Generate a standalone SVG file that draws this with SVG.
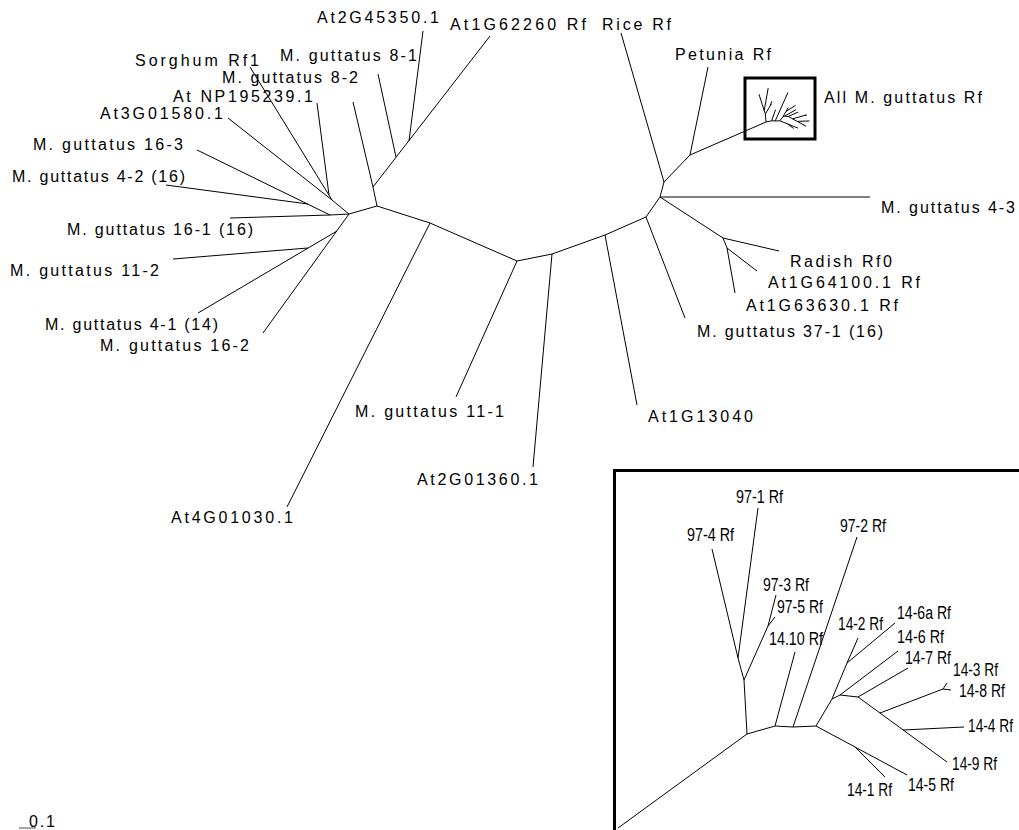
<svg xmlns="http://www.w3.org/2000/svg" xmlns:xlink="http://www.w3.org/1999/xlink" width="1019" height="830" viewBox="0 0 1019 830">
<style>
.br{fill:none;stroke:#000;stroke-width:1;}
.bx{fill:none;stroke:#000;stroke-width:3;}
.lb{font-family:"Liberation Sans",Arial,sans-serif;font-size:16px;fill:#000;}
.il{font-family:"Liberation Sans Narrow","Liberation Sans",Arial,sans-serif;font-size:18px;fill:#000;}
.ns{vector-effect:non-scaling-stroke;}
</style>
<defs>
<g id="itree" class="br">
<path class="ns" d="M747,734 L744,680 L738,658 L712,549 M738,658 L758,508 M744,680 L768,626 L776,595 M768,626 L775,617 M747,734 L775,726 L793,727 L816,726 M775,726 L795,652 M793,727 L857,537 M816,726 L832,699 L847,663 L858,638 M847,663 L895,623 M832,699 L840,695 L898,651 M840,695 L858,697 L908,668 M858,697 L947,762 M880,713 L943,689 L947,683 M943,689 L951,690 M903,730 L964,727 M816,726 L907,775 M855,747 L885,777"/>
</g>
</defs>
<rect width="1019" height="830" fill="#fff"/>
<g id="branches" class="br">
<path d="M349,214 L377,206 M349,214 L330,215 L230,218 M330,215 L197,150 M308,204 L166,185 M349,214 L332,200 L250,67 M332,200 L228,118 M329,195 L317,103 M349,214 L263,333 M337,231 L198,313 M308,248 L173,259"/>
<path d="M377,206 L373,187 L353,102 M373,187 L490,36 M396,157 L378,74 M409,141 L423,31"/>
<path d="M377,206 L430,223 L517,261 L552,254 L605,235 L646,217 L660,197 L664,182 L690,155 L766,122 M430,223 L287,507 M517,261 L456,397 M552,254 L533,467 M605,235 L637,405 M646,217 L685,318 M660,197 L870,197 M660,197 L723,238 L779,251 M723,238 L727,248 L757,271 M727,248 L735,293 M664,182 L621,33 M690,155 L708,67"/>
</g>
<g id="minibox">
<rect class="bx" x="745" y="78" width="70" height="61"/>
<use xlink:href="#itree" href="#itree" transform="translate(766,122) scale(0.2,0.15) translate(-747,-734)"/>
</g>
<g id="labels" class="lb">
<text id="t1" x="317" y="23" textLength="122" lengthAdjust="spacing">At2G45350.1</text>
<text id="t2" x="450" y="30" textLength="136" lengthAdjust="spacing">At1G62260 Rf</text>
<text id="t3" x="602" y="30" textLength="69" lengthAdjust="spacing">Rice Rf</text>
<text id="t4" x="675" y="60" textLength="96" lengthAdjust="spacing">Petunia Rf</text>
<text id="t5" x="824" y="103" textLength="158" lengthAdjust="spacing">All M. guttatus Rf</text>
<text id="t6" x="881" y="213" textLength="134" lengthAdjust="spacing">M. guttatus 4-3</text>
<text id="t7" x="790" y="267" textLength="102" lengthAdjust="spacing">Radish Rf0</text>
<text id="t8" x="768" y="288" textLength="152" lengthAdjust="spacing">At1G64100.1 Rf</text>
<text id="t9" x="746" y="311" textLength="152" lengthAdjust="spacing">At1G63630.1 Rf</text>
<text id="t10" x="697" y="337" textLength="186" lengthAdjust="spacing">M. guttatus 37-1 (16)</text>
<text id="t11" x="648" y="422" textLength="105" lengthAdjust="spacing">At1G13040</text>
<text id="t12" x="417" y="485" textLength="121" lengthAdjust="spacing">At2G01360.1</text>
<text id="t13" x="355" y="417" textLength="149" lengthAdjust="spacing">M. guttatus 11-1</text>
<text id="t14" x="171" y="523" textLength="122" lengthAdjust="spacing">At4G01030.1</text>
<text id="t15" x="100" y="351" textLength="149" lengthAdjust="spacing">M. guttatus 16-2</text>
<text id="t16" x="45" y="330" textLength="173" lengthAdjust="spacing">M. guttatus 4-1 (14)</text>
<text id="t17" x="10" y="276" textLength="149" lengthAdjust="spacing">M. guttatus 11-2</text>
<text id="t18" x="67" y="235" textLength="186" lengthAdjust="spacing">M. guttatus 16-1 (16)</text>
<text id="t19" x="12" y="182" textLength="173" lengthAdjust="spacing">M. guttatus 4-2 (16)</text>
<text id="t20" x="33" y="150" textLength="150" lengthAdjust="spacing">M. guttatus 16-3</text>
<text id="t21" x="100" y="119" textLength="123" lengthAdjust="spacing">At3G01580.1</text>
<text id="t22" x="173" y="102" textLength="140" lengthAdjust="spacing">At NP195239.1</text>
<text id="t23" x="222" y="83" textLength="136" lengthAdjust="spacing">M. guttatus 8-2</text>
<text id="t24" x="135" y="66" textLength="124" lengthAdjust="spacing">Sorghum Rf1</text>
<text id="t25" x="280" y="61" textLength="137" lengthAdjust="spacing">M. guttatus 8-1</text>
</g>
<g id="inset">
<path class="bx" d="M614.5,830 V470.5 H1019"/>
<path class="br" d="M618,828 L747,734"/>
<use xlink:href="#itree" href="#itree"/>
<g class="il">
<text x="736" y="503" textLength="47" lengthAdjust="spacingAndGlyphs">97-1 Rf</text>
<text x="687" y="541" textLength="47" lengthAdjust="spacingAndGlyphs">97-4 Rf</text>
<text x="840" y="532" textLength="46" lengthAdjust="spacingAndGlyphs">97-2 Rf</text>
<text x="763" y="591" textLength="46" lengthAdjust="spacingAndGlyphs">97-3 Rf</text>
<text x="777" y="613" textLength="46" lengthAdjust="spacingAndGlyphs">97-5 Rf</text>
<text x="838" y="630" textLength="45" lengthAdjust="spacingAndGlyphs">14-2 Rf</text>
<text x="897" y="619" textLength="54" lengthAdjust="spacingAndGlyphs">14-6a Rf</text>
<text x="769" y="645" textLength="54" lengthAdjust="spacingAndGlyphs">14.10 Rf</text>
<text x="897" y="643" textLength="47" lengthAdjust="spacingAndGlyphs">14-6 Rf</text>
<text x="905" y="664" textLength="46" lengthAdjust="spacingAndGlyphs">14-7 Rf</text>
<text x="953" y="676" textLength="45" lengthAdjust="spacingAndGlyphs">14-3 Rf</text>
<text x="959" y="697" textLength="46" lengthAdjust="spacingAndGlyphs">14-8 Rf</text>
<text x="1013" y="732" text-anchor="end" textLength="45" lengthAdjust="spacingAndGlyphs">14-4 Rf</text>
<text x="952" y="770" textLength="45" lengthAdjust="spacingAndGlyphs">14-9 Rf</text>
<text x="908" y="791" textLength="46" lengthAdjust="spacingAndGlyphs">14-5 Rf</text>
<text x="847" y="796" textLength="45" lengthAdjust="spacingAndGlyphs">14-1 Rf</text>
</g>
</g>
<g id="scale">
<path d="M19,828 H36" stroke="#777" stroke-width="1.3" fill="none"/>
<text class="lb" x="29" y="827" textLength="26" lengthAdjust="spacing">0.1</text>
</g>
</svg>
